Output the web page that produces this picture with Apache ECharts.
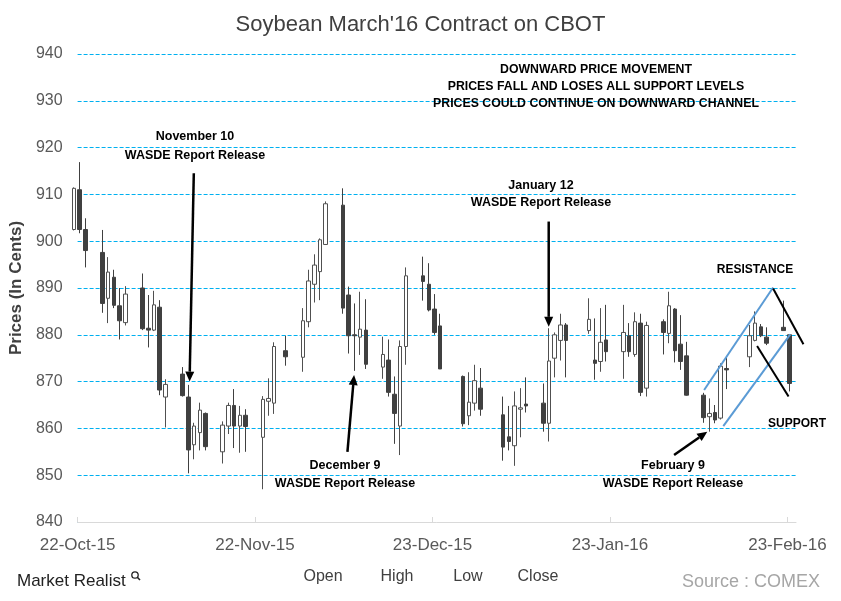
<!DOCTYPE html>
<html>
<head>
<meta charset="utf-8">
<script src="https://cdn.jsdelivr.net/npm/echarts@6/dist/echarts.min.js"></script>
<style>html,body{margin:0;padding:0;background:#fff}#c{width:841px;height:601px}</style>
</head>
<body>
<div id="c"></div>
<script>
// ---- data ----
const dates = ['2015-10-21','2015-10-22','2015-10-23','2015-10-26','2015-10-27','2015-10-28','2015-10-29','2015-10-30',
'2015-11-02','2015-11-03','2015-11-04','2015-11-05','2015-11-06','2015-11-09','2015-11-10','2015-11-11','2015-11-12','2015-11-13',
'2015-11-16','2015-11-17','2015-11-18','2015-11-19','2015-11-20','2015-11-23','2015-11-24','2015-11-25','2015-11-27','2015-11-30',
'2015-12-01','2015-12-02','2015-12-03','2015-12-04','2015-12-07','2015-12-08','2015-12-09','2015-12-10','2015-12-11',
'2015-12-14','2015-12-15','2015-12-16','2015-12-17','2015-12-18','2015-12-21','2015-12-22','2015-12-23','2015-12-24',
'2015-12-28','2015-12-29','2015-12-30','2015-12-31','2016-01-04','2016-01-05','2016-01-06','2016-01-07','2016-01-08',
'2016-01-11','2016-01-12','2016-01-13','2016-01-14','2016-01-15','2016-01-19','2016-01-20','2016-01-21','2016-01-22',
'2016-01-25','2016-01-26','2016-01-27','2016-01-28','2016-01-29','2016-02-01','2016-02-02','2016-02-03','2016-02-04','2016-02-05',
'2016-02-08','2016-02-09','2016-02-10','2016-02-11','2016-02-12','2016-02-16','2016-02-17','2016-02-18','2016-02-19',
'2016-02-22','2016-02-23'];
const opens = [902.5,911.0,902.5,897.6,887.8,892.3,886.2,882.6,
890.0,881.4,881.0,885.9,866.7,871.6,866.7,856.5,859.1,863.2,
855.0,860.5,864.9,860.5,862.8,858.1,865.8,865.4,876.6,875.2,
882.8,890.8,893.5,899.3,907.7,888.5,880.0,879.5,881.0,
873.1,874.6,867.3,860.5,877.5,892.6,890.8,885.5,881.9,
871.1,862.7,865.4,868.6,862.9,858.2,856.3,864.1,865.2,
865.4,861.1,875.0,878.8,882.1,880.9,874.6,874.3,878.9,
876.4,879.8,875.8,882.5,868.6,882.8,880.3,885.5,878.0,875.5,
867.1,862.5,863.4,862.2,872.8,875.3,878.8,881.7,879.5,
881.6,880.0];
const highs = [911.5,916.9,904.9,902.4,896.6,893.9,890.0,890.4,
893.1,888.5,889.4,887.4,870.5,873.1,869.3,861.2,865.5,863.4,
861.5,865.5,868.4,864.8,864.1,866.9,870.7,878.4,879.8,885.7,
893.9,897.2,900.6,908.5,911.3,890.3,886.7,889.2,887.6,
879.6,879.0,871.1,878.8,894.4,896.7,895.3,888.7,884.5,
871.3,872.0,873.6,872.9,866.8,864.8,867.9,868.6,870.9,
869.6,881.4,880.5,884.5,882.5,887.8,883.5,885.7,886.4,
886.4,882.5,884.8,884.5,882.8,883.3,889.2,885.7,884.2,878.5,
867.6,866.4,865.0,873.9,875.2,882.1,885.0,882.3,881.6,
887.3,880.0];
const lows = [902.3,901.7,894.4,884.7,882.5,885.7,879.0,882.0,
881.0,877.3,880.8,867.1,860.2,866.8,850.4,853.4,855.3,855.3,
852.5,858.8,855.8,854.8,855.0,847.0,862.7,863.1,873.4,872.1,
881.6,886.9,887.4,899.2,884.5,876.0,872.3,875.7,872.7,
870.6,866.8,856.7,854.3,873.6,887.3,885.0,880.0,872.7,
860.4,860.7,863.8,862.7,853.1,855.3,852.0,858.1,863.4,
859.3,857.2,870.9,874.5,870.9,880.2,870.4,872.1,874.3,
870.6,875.3,875.3,866.9,866.8,875.8,878.2,874.1,872.5,867.0,
861.2,859.3,861.1,861.9,868.4,873.1,878.6,879.5,877.8,
880.9,867.9];
const closes = [911.3,902.5,898.0,886.7,893.4,886.3,883.0,888.7,
881.3,881.0,886.4,868.2,869.4,867.0,855.4,860.5,863.9,856.1,
860.7,864.9,860.5,862.8,860.4,866.2,866.4,877.5,875.3,883.0,
891.5,894.9,900.3,908.0,885.7,879.8,879.8,881.2,873.7,
875.8,867.7,863.2,877.5,892.6,891.4,885.3,880.5,872.7,
861.0,865.6,870.2,864.1,856.0,857.2,864.8,864.4,864.8,
861.1,874.4,880.0,882.1,878.8,883.3,873.9,878.4,876.4,
880.5,876.4,882.8,867.7,882.0,880.5,886.2,876.6,874.3,867.1,
862.3,863.2,861.8,873.3,872.5,879.8,882.5,879.8,878.2,
880.9,869.6];
const xTickDates = ['2015-10-22','2015-11-22','2015-12-23','2016-01-23','2016-02-23'];
const xTickLabels = ['22-Oct-15','22-Nov-15','23-Dec-15','23-Jan-16','23-Feb-16'];
const yMin = 840, yMax = 940, yStep = 10;

// annotation lines in data space: [day offset from 22-Oct-15, price]
const channelUpper = [[109.45, 868.2], [121.5, 890.1]];
const channelLower = [[112.8, 860.5], [124.5, 880.1]];
const breakUpper = [[121.5, 889.9], [126.8, 878.0]];
const breakLower = [[118.7, 877.6], [124.2, 866.8]];
const arrows = [
  [[20.3, 914.5], [19.56, 870.0]],
  [[47.14, 855.0], [48.3, 871.4]],
  [[82.3, 904.2], [82.3, 881.7]],
  [[104.2, 854.3], [110.0, 859.3]]
];

// ---- helpers ----
const DAY = 86400000;
const base = Date.UTC(2015, 9, 22);
function dayOf(s) { const p = s.split('-').map(Number); return (Date.UTC(p[0], p[1]-1, p[2]) - base) / DAY; }
const SLOT = 0.35; // candle sits inside its day slot
const candleData = dates.map((d, i) => [dayOf(d) + SLOT, opens[i], closes[i], lows[i], highs[i]]);
const tickVals = xTickDates.map(dayOf);
const labelMap = {}; tickVals.forEach((v, i) => labelMap[v] = xTickLabels[i]);

const chart = echarts.init(document.getElementById('c'), null, {renderer: 'canvas'});
const FONT = '"Liberation Sans", Arial, sans-serif';
function txt(x, y, t, size, extra) {
  return {type: 'text', x: x, y: y, z: 10,
    style: Object.assign({text: t, font: 'bold ' + size + 'px ' + FONT, fill: '#000', textAlign: 'center', textVerticalAlign: 'middle'}, extra || {})};
}

const staticGraphics = [
  txt(195, 137, 'November 10', 12.5),
  txt(195, 156, 'WASDE Report Release', 12.5),
  txt(345, 466, 'December 9', 12.5),
  txt(345, 484, 'WASDE Report Release', 12.5),
  txt(541, 186, 'January 12', 12.5),
  txt(541, 203, 'WASDE Report Release', 12.5),
  txt(673, 466, 'February 9', 12.5),
  txt(673, 484, 'WASDE Report Release', 12.5),
  txt(596, 70, 'DOWNWARD PRICE MOVEMENT', 12.3),
  txt(596, 87, 'PRICES FALL AND LOSES ALL SUPPORT LEVELS', 12.3),
  txt(596, 104, 'PRICES COULD CONTINUE ON DOWNWARD CHANNEL', 12.3),
  txt(755, 270, 'RESISTANCE', 12),
  txt(797, 424, 'SUPPORT', 12),
  // legend-like labels
  {type: 'text', x: 323, y: 577, style: {text: 'Open', font: '16px ' + FONT, fill: '#404040', textAlign: 'center', textVerticalAlign: 'middle'}},
  {type: 'text', x: 397, y: 577, style: {text: 'High', font: '16px ' + FONT, fill: '#404040', textAlign: 'center', textVerticalAlign: 'middle'}},
  {type: 'text', x: 468, y: 577, style: {text: 'Low', font: '16px ' + FONT, fill: '#404040', textAlign: 'center', textVerticalAlign: 'middle'}},
  {type: 'text', x: 538, y: 577, style: {text: 'Close', font: '16px ' + FONT, fill: '#404040', textAlign: 'center', textVerticalAlign: 'middle'}},
  // logo
  {type: 'text', x: 17, y: 581, style: {text: 'Market Realist', font: '17px "Liberation Sans Narrow", "Liberation Sans", sans-serif', fill: '#222', textAlign: 'left', textVerticalAlign: 'middle'}},
  {type: 'circle', shape: {cx: 135, cy: 575, r: 3.2}, style: {fill: 'none', stroke: '#222', lineWidth: 1.3}},
  {type: 'line', shape: {x1: 137.3, y1: 577.3, x2: 140, y2: 580}, style: {stroke: '#222', lineWidth: 1.6}},
  // source
  {type: 'text', x: 820, y: 582, style: {text: 'Source : COMEX', font: '18px ' + FONT, fill: '#a6a6a6', textAlign: 'right', textVerticalAlign: 'middle'}}
];

const option = {
  animation: false,
  backgroundColor: '#fff',
  title: {
    text: "Soybean March'16 Contract on CBOT", left: 'center', top: 9,
    textStyle: {fontFamily: FONT, fontSize: 22, fontWeight: 'normal', color: '#404040'}
  },
  grid: {left: 75, right: 45, top: 54, bottom: 79},
  xAxis: {
    type: 'value', min: 0, max: 125.5, interval: 31,
    axisLine: {show: true, lineStyle: {color: '#d9d9d9', width: 1}},
    axisTick: {show: true, inside: true, length: 5, lineStyle: {color: '#d9d9d9'}, customValues: tickVals},
    axisLabel: {
      customValues: tickVals, color: '#595959', fontFamily: FONT, fontSize: 17, margin: 15,
      formatter: v => labelMap[v] !== undefined ? labelMap[v] : ''
    },
    splitLine: {show: false}
  },
  yAxis: {
    type: 'value', min: yMin, max: yMax, interval: yStep,
    name: 'Prices (In Cents)', nameLocation: 'middle', nameGap: 52,
    nameTextStyle: {fontFamily: FONT, fontSize: 17, fontWeight: 'bold', color: '#404040'},
    axisLine: {show: false}, axisTick: {show: false},
    axisLabel: {color: '#595959', fontFamily: FONT, fontSize: 16, margin: 15},
    splitLine: {show: true, lineStyle: {color: '#00B0F0', type: [4, 2], width: 1}}
  },
  series: [{
    type: 'candlestick',
    data: candleData,
    encode: {x: 0, y: [1, 2, 3, 4]},
    barWidth: 4,
    clip: false,
    itemStyle: {color: '#ffffff', color0: '#404040', borderColor: '#505050', borderColor0: '#404040', borderWidth: 1}
  }],
  graphic: staticGraphics
};
chart.setOption(option);

// annotation lines/arrows placed through the chart's own coordinate system
const toPx = p => chart.convertToPixel({gridIndex: 0}, p);
function segGraphic(pts, color, width) {
  const a = toPx(pts[0]), b = toPx(pts[1]);
  return {type: 'line', z: 5, shape: {x1: a[0], y1: a[1], x2: b[0], y2: b[1]}, style: {stroke: color, lineWidth: width}};
}
function arrowGraphic(pts) {
  const a = toPx(pts[0]), b = toPx(pts[1]);
  const dx = b[0] - a[0], dy = b[1] - a[1], L = Math.hypot(dx, dy);
  const ux = dx / L, uy = dy / L, hl = 10, hw = 4.5;
  const bx = b[0] - ux * hl, by = b[1] - uy * hl;
  return [
    {type: 'line', z: 5, shape: {x1: a[0], y1: a[1], x2: bx, y2: by}, style: {stroke: '#000', lineWidth: 2.5}},
    {type: 'polygon', z: 5, shape: {points: [[b[0], b[1]], [bx - uy * hw, by + ux * hw], [bx + uy * hw, by - ux * hw]]}, style: {fill: '#000'}}
  ];
}
const dyn = [
  segGraphic(channelUpper, '#5B9BD5', 2),
  segGraphic(channelLower, '#5B9BD5', 2),
  segGraphic(breakUpper, '#000', 2),
  segGraphic(breakLower, '#000', 2)
];
arrows.forEach(a => dyn.push(...arrowGraphic(a)));
chart.setOption({graphic: staticGraphics.concat(dyn)}, {replaceMerge: ['graphic']});
</script>
</body>
</html>
